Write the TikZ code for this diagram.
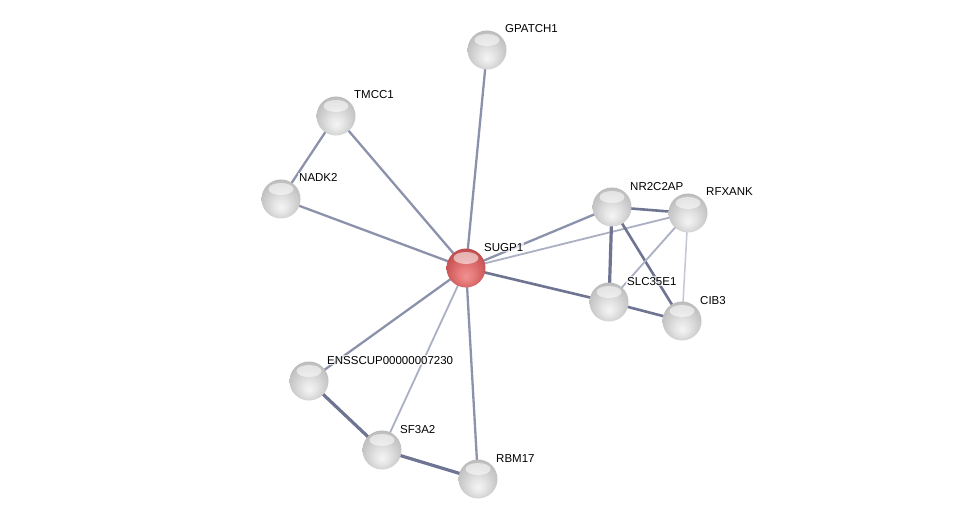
\documentclass[tikz,border=0pt]{standalone}
\usepackage{fontspec}
\setmainfont{Liberation Sans}
\usetikzlibrary{calc}
\definecolor{edA}{RGB}{110,116,145}
\definecolor{edB}{RGB}{140,146,172}
\definecolor{edC}{RGB}{170,175,195}
\definecolor{edD}{RGB}{195,199,214}
\pgfdeclareradialshading{greysphere}{\pgfpoint{0bp}{-11bp}}{%
  color(0bp)=(white!96!black);
  color(9bp)=(white!90!black);
  color(20bp)=(white!81!black);
  color(29bp)=(white!74!black);
  color(36bp)=(white!62!black);
  color(42bp)=(white!55!black);
  color(50bp)=(white!50!black)}
\pgfdeclareradialshading{redsphere}{\pgfpoint{0bp}{-11bp}}{%
  color(0bp)=(rgb,255:red,240;green,145;blue,145);
  color(9bp)=(rgb,255:red,232;green,125;blue,125);
  color(20bp)=(rgb,255:red,212;green,98;blue,98);
  color(29bp)=(rgb,255:red,192;green,78;blue,78);
  color(36bp)=(rgb,255:red,165;green,58;blue,58);
  color(42bp)=(rgb,255:red,140;green,45;blue,45);
  color(50bp)=(rgb,255:red,120;green,35;blue,35)}
\tikzset{
  x=1pt, y=-1pt,
  hilite/.style={path picture={
    \fill[white, opacity=0.55] ([yshift=10pt]path picture bounding box.center) ellipse [x radius=12.5pt, y radius=6pt];}},
  prot/.style={circle, minimum size=39pt, inner sep=0pt, shading=greysphere, draw=none, hilite},
  query/.style={circle, minimum size=39pt, inner sep=0pt, shading=redsphere, draw=none, hilite},
  lbl/.style={anchor=base west, inner sep=1pt, fill=white, fill opacity=0.7, text opacity=1, font=\fontsize{11.5}{13}\selectfont},
  strong/.style={edA, line width=3.2pt},
  mid/.style={edB, line width=2.3pt},
  med/.style={edA, line width=2.6pt},
  light/.style={edC, line width=1.8pt},
  faint/.style={edD, line width=1.5pt},
}
\begin{document}
\begin{tikzpicture}
\useasboundingbox (0,0) rectangle (975,524);
\fill[white] (0,0) rectangle (975,524);
% positions
\coordinate (pGPATCH1) at (487,50);
\coordinate (pTMCC1) at (336,116);
\coordinate (pNADK2) at (281,199);
\coordinate (pSUGP1) at (466,268);
\coordinate (pNR2C2AP) at (612,207);
\coordinate (pRFXANK) at (688,213);
\coordinate (pSLC35E1) at (609,302);
\coordinate (pCIB3) at (682,321);
\coordinate (pENS) at (309,381);
\coordinate (pSF3A2) at (382,450);
\coordinate (pRBM17) at (478,479);
% edges
\draw[mid] (pSUGP1) -- (pGPATCH1);
\draw[mid] (pSUGP1) -- (pTMCC1);
\draw[mid] (pSUGP1) -- (pNADK2);
\draw[mid] (pTMCC1) -- (pNADK2);
\draw[mid] (pSUGP1) -- (pNR2C2AP);
\draw[light] (pSUGP1) -- (pRFXANK);
\draw[med] (pSUGP1) -- (pSLC35E1);
\draw[mid] (pSUGP1) -- (pENS);
\draw[light] (pSUGP1) -- (pSF3A2);
\draw[mid] (pSUGP1) -- (pRBM17);
\draw[strong] (pENS) -- (pSF3A2);
\draw[strong] (pSF3A2) -- (pRBM17);
\draw[med] (pNR2C2AP) -- (pRFXANK);
\draw[strong] (pNR2C2AP) -- (pSLC35E1);
\draw[med] (pNR2C2AP) -- (pCIB3);
\draw[light] (pRFXANK) -- (pSLC35E1);
\draw[faint] (pRFXANK) -- (pCIB3);
\draw[med] (pSLC35E1) -- (pCIB3);
% nodes
\node[prot] (GPATCH1) at (pGPATCH1) {};
\node[prot] (TMCC1) at (pTMCC1) {};
\node[prot] (NADK2) at (pNADK2) {};
\node[query] (SUGP1) at (pSUGP1) {};
\node[prot] (NR2C2AP) at (pNR2C2AP) {};
\node[prot] (RFXANK) at (pRFXANK) {};
\node[prot] (SLC35E1) at (pSLC35E1) {};
\node[prot] (CIB3) at (pCIB3) {};
\node[prot] (ENS) at (pENS) {};
\node[prot] (SF3A2) at (pSF3A2) {};
\node[prot] (RBM17) at (pRBM17) {};
% labels
\node[lbl] (lGPATCH1) at ($(GPATCH1)+(17,-17)$) {GPATCH1};
\node[lbl] (lTMCC1) at ($(TMCC1)+(17,-17)$) {TMCC1};
\node[lbl] (lNADK2) at ($(NADK2)+(17,-17)$) {NADK2};
\node[lbl] (lSUGP1) at ($(SUGP1)+(17,-17)$) {SUGP1};
\node[lbl] (lNR2C2AP) at ($(NR2C2AP)+(17,-17)$) {NR2C2AP};
\node[lbl] (lRFXANK) at ($(RFXANK)+(17,-17)$) {RFXANK};
\node[lbl] (lSLC35E1) at ($(SLC35E1)+(17,-17)$) {SLC35E1};
\node[lbl] (lCIB3) at ($(CIB3)+(17,-17)$) {CIB3};
\node[lbl] (lENS) at ($(ENS)+(17,-17)$) {ENSSCUP00000007230};
\node[lbl] (lSF3A2) at ($(SF3A2)+(17,-17)$) {SF3A2};
\node[lbl] (lRBM17) at ($(RBM17)+(17,-17)$) {RBM17};
\end{tikzpicture}
\end{document}
